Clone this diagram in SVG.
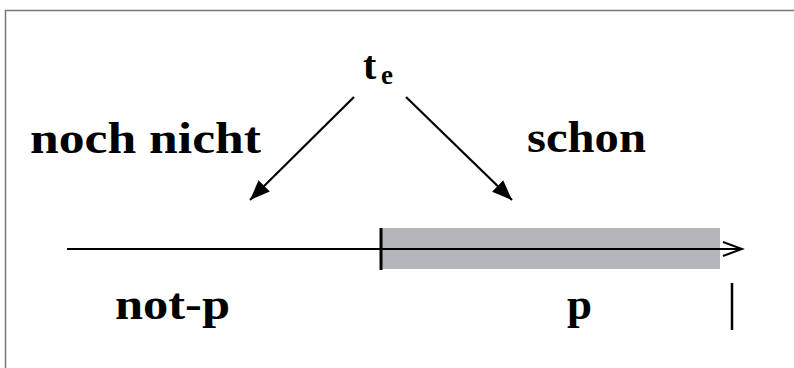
<svg xmlns="http://www.w3.org/2000/svg" width="794" height="368" viewBox="0 0 794 368">
<style>
text{font-family:'Liberation Serif','Times New Roman','DejaVu Serif',serif;font-weight:bold;fill:#000}
.ln{stroke:#000;fill:none}
</style>
<defs>
<marker id="fh" markerWidth="22" markerHeight="20" refX="20" refY="10" orient="auto" markerUnits="userSpaceOnUse">
<path d="M0,2 L20,10 L0,18 Z" fill="#000"/>
</marker>
</defs>
<rect x="0" y="0" width="794" height="368" fill="#fff"/>
<path d="M5.5,368 V10.5 H794" stroke="#777" stroke-width="1.5" fill="none"/>
<g id="bar"><rect x="380" y="228" width="340" height="41" fill="#b3b5b8"/></g>
<g id="connectors">
<line class="ln" x1="67" y1="249" x2="742" y2="249" stroke-width="2"/>
<path class="ln" d="M723,242 L742,249 L723,256" stroke-width="2"/>
<line class="ln" x1="381" y1="228" x2="381" y2="270" stroke-width="3"/>
<line class="ln" x1="732" y1="283" x2="732" y2="330" stroke-width="2.5"/>
<line class="ln" x1="354" y1="97" x2="250" y2="200" stroke-width="2.2" marker-end="url(#fh)"/>
<line class="ln" x1="406" y1="97" x2="512" y2="200" stroke-width="2.2" marker-end="url(#fh)"/>
</g>
<g id="te"><text x="363" y="79" font-size="40" font-family="Liberation Serif, serif">t</text><text x="381" y="84" font-size="27" font-family="Liberation Serif, serif">e</text></g>
<g id="noch-nicht"><text x="30" y="153" font-size="44" font-family="Liberation Serif, serif" textLength="231" lengthAdjust="spacingAndGlyphs">noch nicht</text></g>
<g id="schon"><text x="527" y="152" font-size="44" font-family="Liberation Serif, serif" textLength="119" lengthAdjust="spacingAndGlyphs">schon</text></g>
<g id="not-p"><text x="115" y="319" font-size="44" font-family="Liberation Serif, serif" textLength="115" lengthAdjust="spacingAndGlyphs">not-p</text></g>
<g id="p"><text x="567" y="319" font-size="44" font-family="Liberation Serif, serif" textLength="25" lengthAdjust="spacingAndGlyphs">p</text></g>
</svg>
